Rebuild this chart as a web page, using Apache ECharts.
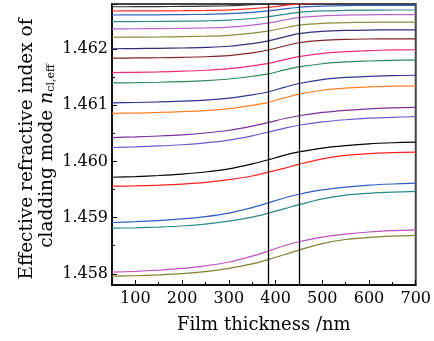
<!DOCTYPE html>
<html>
<head>
<meta charset="utf-8">
<script src="https://cdn.jsdelivr.net/npm/echarts@6/dist/echarts.min.js"></script>
<style>
  html, body { margin: 0; padding: 0; background: #fff; }
  #chart { width: 434px; height: 341px; }
</style>
</head>
<body>
<div id="chart"></div>
<script>
// film thickness samples (nm)
const thickness = [50, 100, 150, 200, 250, 300, 350, 385, 420, 450, 500, 550, 600, 650, 700];
// the two marked thicknesses
const markerX = [385, 450];

// effective index of each cladding mode, top to bottom
const cladMode1 = [1.462751, 1.462752, 1.462754, 1.462757, 1.462761, 1.462769, 1.462789, 1.462810, 1.462840, 1.462864, 1.462881, 1.462888, 1.462891, 1.462892, 1.462892];
const cladMode2 = [1.462675, 1.462677, 1.462678, 1.462681, 1.462686, 1.462696, 1.462718, 1.462742, 1.462775, 1.462802, 1.462821, 1.462829, 1.462832, 1.462834, 1.462834];
const cladMode3 = [1.462604, 1.462606, 1.462608, 1.462611, 1.462616, 1.462627, 1.462651, 1.462677, 1.462713, 1.462742, 1.462763, 1.462772, 1.462775, 1.462777, 1.462777];
const cladMode4 = [1.462486, 1.462488, 1.462490, 1.462494, 1.462501, 1.462513, 1.462542, 1.462573, 1.462616, 1.462652, 1.462676, 1.462687, 1.462691, 1.462693, 1.462693];
const cladMode5 = [1.462357, 1.462360, 1.462362, 1.462367, 1.462375, 1.462390, 1.462425, 1.462463, 1.462516, 1.462559, 1.462590, 1.462602, 1.462608, 1.462610, 1.462610];
const cladMode6 = [1.462208, 1.462211, 1.462213, 1.462219, 1.462227, 1.462243, 1.462281, 1.462321, 1.462378, 1.462423, 1.462456, 1.462469, 1.462474, 1.462477, 1.462477];
const cladMode7 = [1.462004, 1.462007, 1.462011, 1.462017, 1.462028, 1.462048, 1.462095, 1.462145, 1.462215, 1.462272, 1.462312, 1.462329, 1.462336, 1.462339, 1.462339];
const cladMode8 = [1.461837, 1.461840, 1.461844, 1.461851, 1.461861, 1.461882, 1.461930, 1.461981, 1.462053, 1.462111, 1.462153, 1.462170, 1.462177, 1.462180, 1.462180];
const cladMode9 = [1.461580, 1.461584, 1.461592, 1.461604, 1.461621, 1.461649, 1.461698, 1.461742, 1.461811, 1.461864, 1.461921, 1.461954, 1.461970, 1.461982, 1.461986];
const cladMode10 = [1.461396, 1.461400, 1.461408, 1.461420, 1.461437, 1.461465, 1.461514, 1.461558, 1.461627, 1.461680, 1.461737, 1.461770, 1.461786, 1.461798, 1.461802];
const cladMode11 = [1.461042, 1.461047, 1.461057, 1.461071, 1.461091, 1.461125, 1.461184, 1.461238, 1.461321, 1.461385, 1.461454, 1.461493, 1.461512, 1.461527, 1.461532];
const cladMode12 = [1.460855, 1.460860, 1.460870, 1.460884, 1.460904, 1.460938, 1.460997, 1.461050, 1.461133, 1.461197, 1.461265, 1.461304, 1.461324, 1.461338, 1.461343];
const cladMode13 = [1.460424, 1.460435, 1.460451, 1.460472, 1.460505, 1.460553, 1.460628, 1.460693, 1.460762, 1.460811, 1.460870, 1.460907, 1.460934, 1.460950, 1.460961];
const cladMode14 = [1.460247, 1.460258, 1.460274, 1.460296, 1.460329, 1.460379, 1.460455, 1.460521, 1.460592, 1.460642, 1.460702, 1.460740, 1.460768, 1.460784, 1.460795];
const cladMode15 = [1.459717, 1.459730, 1.459748, 1.459773, 1.459811, 1.459867, 1.459955, 1.460030, 1.460111, 1.460168, 1.460237, 1.460280, 1.460312, 1.460331, 1.460343];
const cladMode16 = [1.459558, 1.459564, 1.459576, 1.459595, 1.459625, 1.459674, 1.459740, 1.459807, 1.459880, 1.459947, 1.460044, 1.460105, 1.460136, 1.460154, 1.460166];
const cladMode17 = [1.458912, 1.458926, 1.458947, 1.458975, 1.459017, 1.459080, 1.459178, 1.459262, 1.459352, 1.459415, 1.459492, 1.459541, 1.459576, 1.459597, 1.459611];
const cladMode18 = [1.458811, 1.458818, 1.458831, 1.458850, 1.458883, 1.458935, 1.459007, 1.459079, 1.459158, 1.459230, 1.459334, 1.459400, 1.459432, 1.459452, 1.459465];
const cladMode19 = [1.458028, 1.458043, 1.458066, 1.458096, 1.458141, 1.458209, 1.458314, 1.458405, 1.458502, 1.458570, 1.458653, 1.458706, 1.458743, 1.458766, 1.458781];
const cladMode20 = [1.457958, 1.457965, 1.457980, 1.458001, 1.458038, 1.458096, 1.458175, 1.458255, 1.458342, 1.458421, 1.458537, 1.458610, 1.458646, 1.458668, 1.458682];

const modeColors = ['#333333', '#ff2a2a', '#3060c0', '#2e8b8b', '#b766c8', '#8c8c3c', '#2f2f7a', '#7f2525',
  '#ee2a7b', '#2e8b57', '#2b3990', '#ff7f27', '#7b2f9b', '#6a5acd',
  '#000000', '#ff2020', '#2f5fbf', '#2a8a8a', '#c050c0', '#808030'];

const allModes = [cladMode1, cladMode2, cladMode3, cladMode4, cladMode5, cladMode6, cladMode7, cladMode8,
  cladMode9, cladMode10, cladMode11, cladMode12, cladMode13, cladMode14, cladMode15, cladMode16,
  cladMode17, cladMode18, cladMode19, cladMode20];

const serif = 'DejaVu Serif';

let series = [];
for (let i = 0; i < allModes.length; i++) {
  series.push({
    type: 'line',
    data: thickness.map((t, k) => [t, allModes[i][k]]),
    showSymbol: false,
    smooth: 0.3,
    lineStyle: { color: modeColors[i], width: 1.2 },
    silent: true,
    z: 2
  });
}
// the two vertical guides
series.push({
  type: 'line',
  data: [],
  silent: true,
  markLine: {
    symbol: 'none',
    silent: true,
    label: { show: false },
    lineStyle: { color: '#000', width: 1.3, type: 'solid' },
    data: markerX.map(x => ({ xAxis: x }))
  },
  z: 3
});

var myChart = echarts.init(document.getElementById('chart'));
myChart.setOption({
  animation: false,
  grid: {
    left: 112, right: 14, top: 4, bottom: 56,
    show: true, borderColor: '#444', borderWidth: 2, backgroundColor: 'transparent'
  },
  xAxis: {
    type: 'value',
    min: 50, max: 700, splitNumber: 7,
    name: 'Film thickness /nm',
    nameLocation: 'middle',
    nameGap: 31,
    nameTextStyle: { fontFamily: serif, fontSize: 18, color: '#000' },
    axisLine: { lineStyle: { color: '#000', width: 1.5 } },
    axisTick: { inside: true, length: 5, lineStyle: { color: '#000' } },
    minorTick: { show: true, splitNumber: 2, length: 3, lineStyle: { color: '#000' } },
    splitLine: { show: false },
    axisLabel: {
      fontFamily: serif, fontSize: 16, color: '#000', margin: 6,
      showMinLabel: false,
      formatter: v => (v % 100 === 0 ? String(v) : '')
    }
  },
  yAxis: {
    type: 'value',
    min: 1.4578, max: 1.4628, splitNumber: 5,
    axisLine: { show: true, lineStyle: { color: '#000', width: 1.5 } },
    axisTick: { show: true, inside: true, length: 5, lineStyle: { color: '#000' } },
    minorTick: { show: true, splitNumber: 2, length: 3, lineStyle: { color: '#000' } },
    splitLine: { show: false },
    axisLabel: {
      fontFamily: serif, fontSize: 16, color: '#000', margin: 4,
      formatter: v => {
        let k = v * 1000;
        return Math.abs(k - Math.round(k)) < 1e-6 ? v.toFixed(3) : '';
      }
    }
  },
  graphic: [
    {
      type: 'text', x: 27, y: 149, rotation: Math.PI / 2,
      style: {
        text: 'Effective refractive index of',
        font: '18.5px "DejaVu Serif"', fill: '#000',
        align: 'center', verticalAlign: 'middle'
      }
    },
    {
      type: 'text', x: 47, y: 156, rotation: Math.PI / 2,
      style: {
        text: 'cladding mode {i|n}{s|cl,eff}',
        font: '18.5px "DejaVu Serif"', fill: '#000',
        align: 'center', verticalAlign: 'middle',
        rich: {
          i: { fontFamily: serif, fontSize: 19, fontStyle: 'italic', fill: '#000' },
          s: { fontFamily: serif, fontSize: 11, fill: '#000', padding: [9, 0, 0, 0] }
        }
      }
    }
  ],
  series: series
});
</script>
</body>
</html>
